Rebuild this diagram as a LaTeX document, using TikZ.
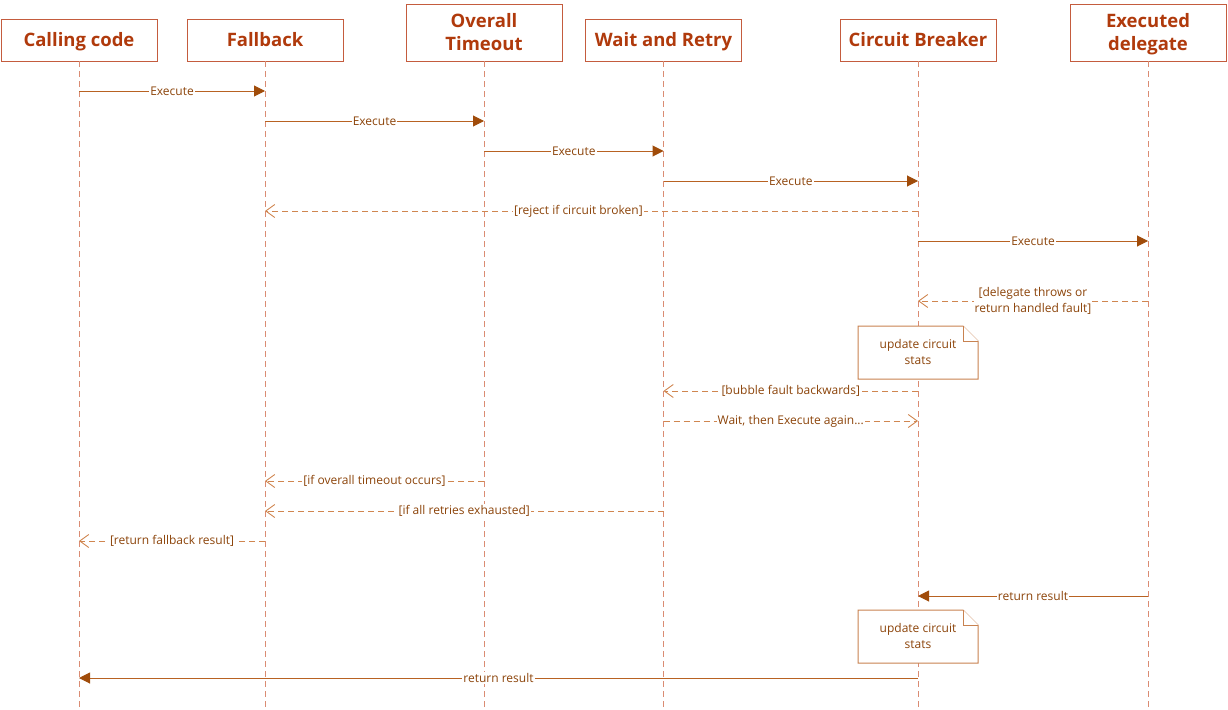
\documentclass[tikz,border=0pt]{standalone}
\usepackage{fontspec}
\setmainfont{Open Sans}
\usetikzlibrary{arrows.meta, calc, positioning}

\definecolor{headtext}{RGB}{176,58,12}
\definecolor{headline}{RGB}{196,92,62}
\definecolor{lifeline}{RGB}{218,140,115}
\definecolor{msgline}{RGB}{184,98,34}
\definecolor{tipfill}{RGB}{160,76,10}
\definecolor{msgtext}{RGB}{140,68,10}
\definecolor{backline}{RGB}{208,134,80}
\definecolor{noteline}{RGB}{200,130,80}

\tikzset{
    head/.style={draw=headline, fill=white, text=headtext, font=\fontsize{18.5}{23.5}\selectfont\bfseries,
        minimum width=156pt, minimum height=42pt, align=center, inner sep=2pt, text depth=1pt},
    tallhead/.style={head, minimum height=57pt},
    life/.style={draw=lifeline, line width=0.9pt, dash pattern=on 6pt off 4pt},
    call/.style={draw=msgline, line width=1pt, -{Triangle[length=11pt,width=11pt,fill=tipfill,color=tipfill]}},
    back/.style={draw=backline, line width=1pt, dash pattern=on 6pt off 4pt,
        -{Straight Barb[length=9pt,width=13pt,line width=0.9pt]}},
    again/.style={back},
    lbl/.style={fill=white, text=msgtext, font=\fontsize{12}{16}\selectfont, inner sep=1pt, align=center},
    note/.style={draw=noteline, fill=white, line width=1pt}
}

\begin{document}
\begin{tikzpicture}[x=1pt, y=-1pt]
    \useasboundingbox (0,0) rectangle (1228,709);

    \node[head]     (cc) at (79,40)     {Calling code};
    \node[head]     (fb) at (265,40)    {Fallback};
    \node[tallhead] (ot) at (484,32.5)  {Overall\\Timeout};
    \node[head]     (wr) at (663.5,40)  {Wait and Retry};
    \node[head]     (cb) at (918,40)    {Circuit Breaker};
    \node[tallhead] (ed) at (1148,32.5) {Executed\\delegate};

    \foreach \h in {cc, fb, ot, wr, cb, ed}
        \draw[life] (\h.south) -- (\h.south |- 0,709);

    \draw[call] (cc |- 0,91)  -- node[lbl] {Execute} (fb |- 0,91);
    \draw[call] (fb |- 0,121) -- node[lbl] {Execute} (ot |- 0,121);
    \draw[call] (ot |- 0,151) -- node[lbl] {Execute} (wr |- 0,151);
    \draw[call] (wr |- 0,181) -- node[lbl] {Execute} (cb |- 0,181);
    \draw[back] (cb |- 0,211) -- node[lbl, pos=0.52] {[reject if circuit broken]} (fb |- 0,211);
    \draw[call] (cb |- 0,241) -- node[lbl] {Execute} (ed |- 0,241);
    \draw[back] (ed |- 0,301) -- node[lbl] {[delegate throws or\\return handled fault]} (cb |- 0,301);

    \draw[note] (858,326) -- (963,326) -- (978,341) -- (978,379) -- (858,379) -- cycle;
    \draw[note] (963,326) -- (963,341) -- (978,341);
    \node[lbl, fill=none] (upd1) at (918,352) {update circuit\\stats};

    \draw[back]  (cb |- 0,391) -- node[lbl] {[bubble fault backwards]} (wr |- 0,391);
    \draw[again] (wr |- 0,421) -- node[lbl] {Wait, then Execute again...} (cb |- 0,421);
    \draw[back]  (ot |- 0,481) -- node[lbl] {[if overall timeout occurs]} (fb |- 0,481);
    \draw[back]  (wr |- 0,511) -- node[lbl] {[if all retries exhausted]} (fb |- 0,511);
    \draw[back]  (fb |- 0,541) -- node[lbl] {[return fallback result]} (cc |- 0,541);
    \draw[call]  (ed |- 0,596) -- node[lbl] {return result} (cb |- 0,596);

    \draw[note] (858,610) -- (963,610) -- (978,625) -- (978,663) -- (858,663) -- cycle;
    \draw[note] (963,610) -- (963,625) -- (978,625);
    \node[lbl, fill=none] (upd2) at (918,636) {update circuit\\stats};

    \draw[call]  (cb |- 0,678) -- node[lbl] {return result} (cc |- 0,678);
\end{tikzpicture}
\end{document}
